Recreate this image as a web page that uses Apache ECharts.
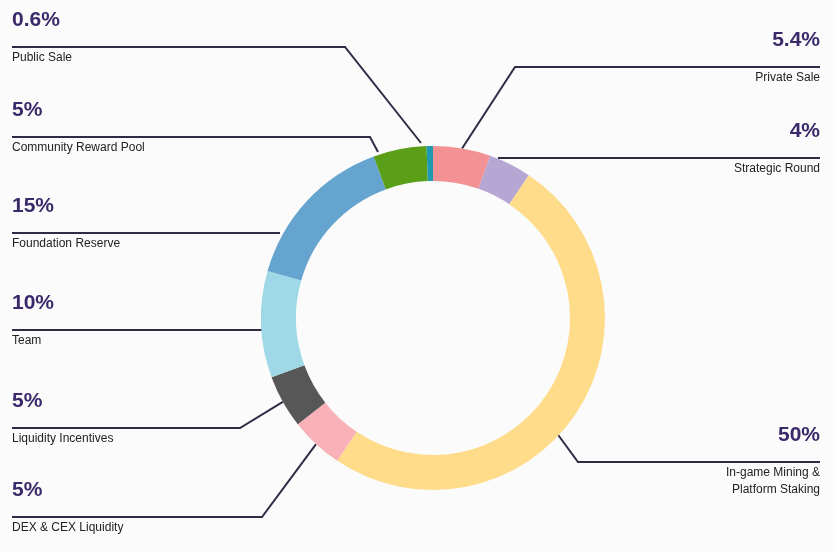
<!DOCTYPE html>
<html><head><meta charset="utf-8">
<script src="https://cdn.jsdelivr.net/npm/echarts@6/dist/echarts.min.js"></script>
<style>html,body{margin:0;background:#fbfbfb}#c{width:836px;height:552px}</style>
</head><body><div id="c"></div>
<script>
const names = ['Private Sale','Strategic Round','In-game Mining &\nPlatform Staking','DEX & CEX Liquidity','Liquidity Incentives','Team','Foundation Reserve','Community Reward Pool','Public Sale'];
const values = [5.4, 4, 50, 5, 5, 10, 15, 5, 0.6];
const pctLabels = ['5.4%','4%','50%','5%','5%','10%','15%','5%','0.6%'];
const colors = ['#F39294','#B5A6D3','#FFDC8A','#F8B1B7','#575757','#9FD9E7','#65A4CF','#5B9E17','#1F9AB2'];
// label guide layout: horizontal line y, elbow x, side, optional start override
const lineY = [67, 158, 462, 517, 428, 330, 233, 137, 47];
const elbowX = [515, 498, 578, 262, 240, 262, 280, 370, 345];
const side = ['r','r','r','l','l','l','l','l','l'];
const straight = [false, true, false, false, false, true, true, false, false];
const startOverride = [null, null, [556,432], null, null, null, null, [378,152], [421,143]];

const chart = echarts.init(document.getElementById('c'));
chart.setOption({
  backgroundColor:'#fbfbfb',
  series:[{
    type:'pie', center:[433,318], radius:[137,172], startAngle:90, clockwise:true,
    silent:true, animation:false,
    data: names.map((n,i)=>({name:n, value:values[i], itemStyle:{color:colors[i]}})),
    label:{show:true, position:'outside',
      formatter:p=>'{p|'+pctLabels[p.dataIndex]+'}\n{n|'+p.name.replace('\n','}\n{n|')+'}',
      rich:{
        p:{fontSize:21,fontWeight:'bold',color:'#3A2A6A',lineHeight:54,fontFamily:'Liberation Sans'},
        n:{fontSize:12,color:'#222',lineHeight:17,padding:[4,0,0,0],fontFamily:'Liberation Sans'}
      }},
    labelLine:{show:true, lineStyle:{color:'#2F2B45',width:2}},
    labelLayout:function(params){
      const i=params.dataIndex, r=side[i]==='r';
      const s=startOverride[i]||params.labelLinePoints[0];
      const ex=r?820:12;
      const pts = straight[i] ? [[elbowX[i],lineY[i]],[(elbowX[i]+ex)/2,lineY[i]],[ex,lineY[i]]]
                              : [s,[elbowX[i],lineY[i]],[ex,lineY[i]]];
      return {x:ex, y:lineY[i]-54, align:r?'right':'left', verticalAlign:'top', labelLinePoints:pts};
    }
  }]
});
</script></body></html>
